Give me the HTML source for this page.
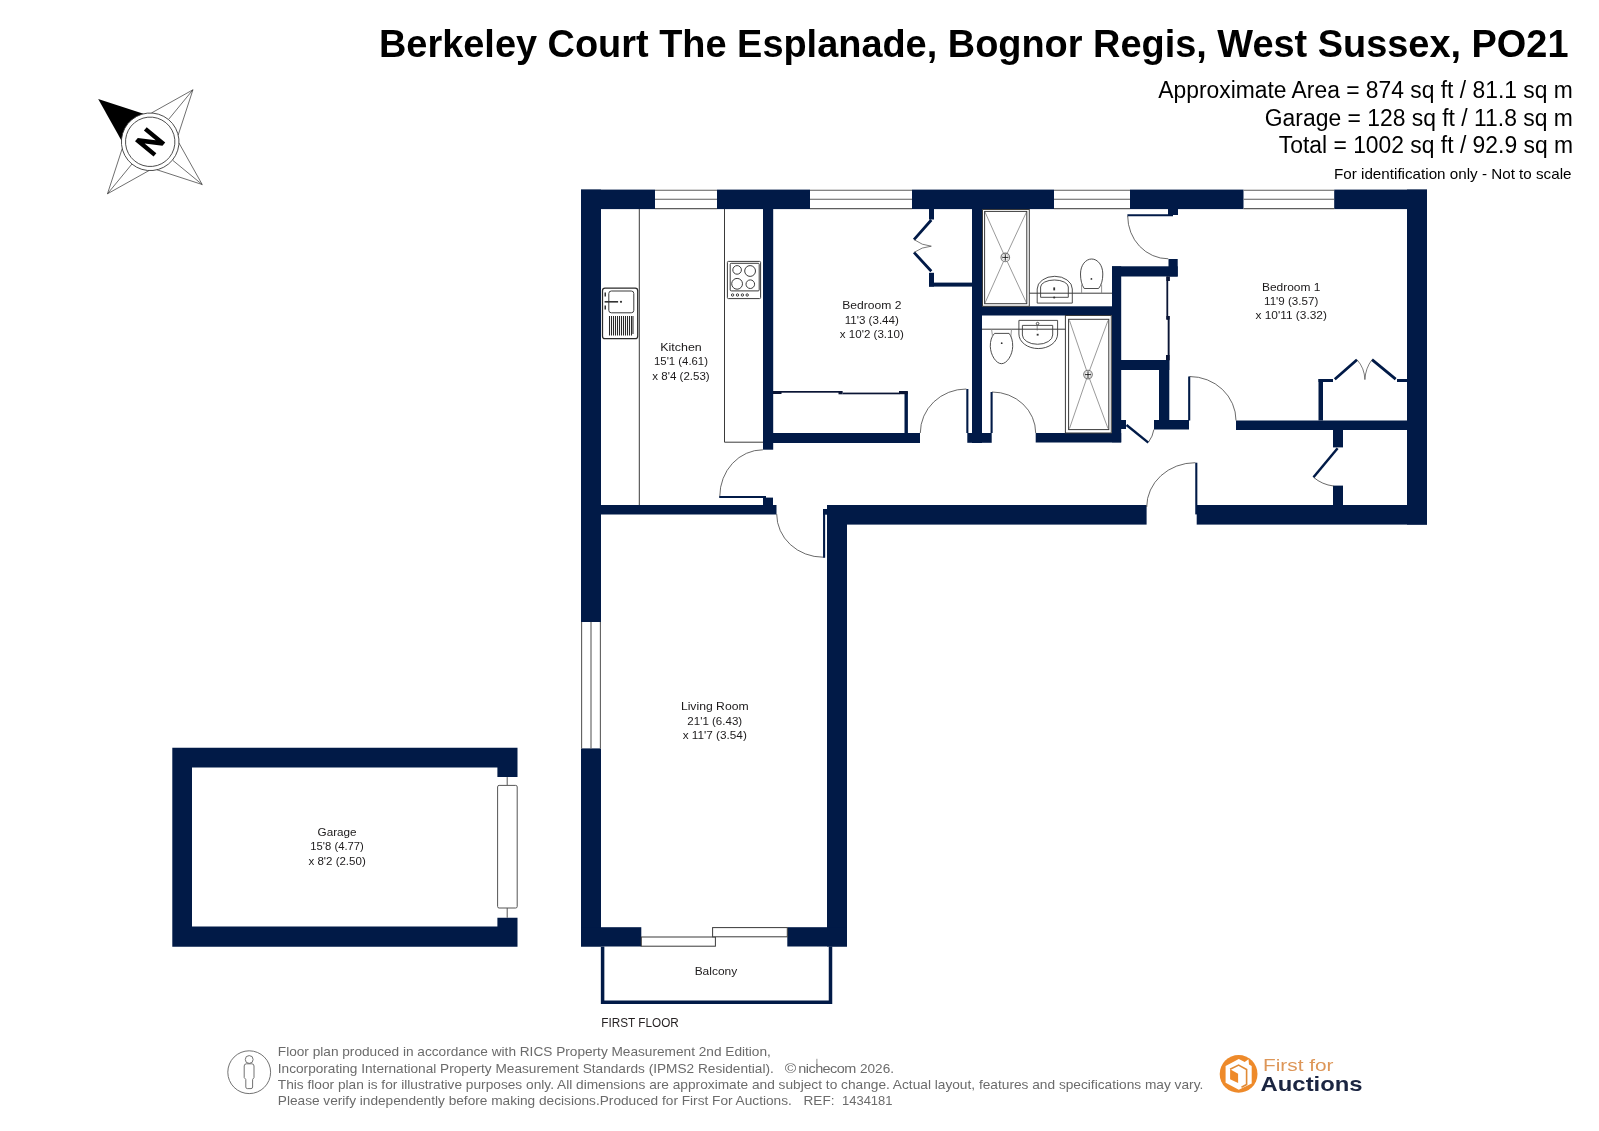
<!DOCTYPE html>
<html><head><meta charset="utf-8"><title>Floor plan</title>
<style>
html,body{margin:0;padding:0;background:#fff;}
body{width:1599px;height:1131px;overflow:hidden;position:relative;font-family:"Liberation Sans",sans-serif;}
svg{position:absolute;left:0;top:0;will-change:transform;}
</style></head>
<body>
<svg width="1599" height="1131" viewBox="0 0 1599 1131" font-family="Liberation Sans, sans-serif">
<!-- HEADER -->
<g id="header">
<text x="379" y="57.3" font-size="38" font-weight="700" fill="#000" textLength="1189.5" lengthAdjust="spacingAndGlyphs">Berkeley Court The Esplanade, Bognor Regis, West Sussex, PO21</text>
<text x="1158.3" y="97.5" font-size="23.3" fill="#000" textLength="414.5" lengthAdjust="spacingAndGlyphs">Approximate Area = 874 sq ft / 81.1 sq m</text>
<text x="1264.8" y="125.5" font-size="23.3" fill="#000" textLength="308" lengthAdjust="spacingAndGlyphs">Garage = 128 sq ft / 11.8 sq m</text>
<text x="1278.8" y="153" font-size="23.3" fill="#000" textLength="294.2" lengthAdjust="spacingAndGlyphs">Total = 1002 sq ft / 92.9 sq m</text>
<text x="1571.5" y="179.4" font-size="14.8" fill="#000" text-anchor="end" textLength="237.5" lengthAdjust="spacingAndGlyphs">For identification only - Not to scale</text>
</g>

<!-- PLAN -->
<g id="walls" fill="#011a47">
<!-- top wall -->
<rect x="581" y="189.6" width="74" height="19.5"/>
<rect x="717" y="189.6" width="93" height="19.5"/>
<rect x="912" y="189.6" width="142" height="19.5"/>
<rect x="1130" y="189.6" width="113.5" height="19.5"/>
<rect x="1334.2" y="189.6" width="92.8" height="19.5"/>
<!-- left wall -->
<rect x="581" y="189.6" width="20" height="432.4"/>
<rect x="581" y="748.4" width="20" height="198.1"/>
<!-- right wall -->
<rect x="1407" y="189.6" width="20" height="335"/>
<!-- bottom walls right section -->
<rect x="1196.7" y="505" width="230.3" height="19.6"/>
<rect x="827" y="505" width="319.6" height="19.6"/>
<!-- living right wall -->
<rect x="827" y="505" width="20" height="441.5"/>
<!-- living bottom -->
<rect x="581" y="927.2" width="60.3" height="19.3"/>
<rect x="787.3" y="927.2" width="59.7" height="19.3"/>
<!-- interior -->
<rect x="763" y="209" width="10.2" height="240.7"/>
<rect x="601" y="505" width="175.5" height="9.5"/>
<rect x="763" y="497.6" width="10" height="8"/>
<rect x="823" y="509" width="4.2" height="5.7"/>
<rect x="773" y="433" width="147" height="10"/>
<rect x="972" y="209" width="10" height="234"/>
<rect x="967.3" y="433" width="24.4" height="9.8"/>
<rect x="982" y="306.3" width="130" height="9.2"/>
<rect x="1112" y="266.3" width="9.2" height="176"/>
<rect x="1035.7" y="433" width="85.5" height="9.5"/>
<rect x="1112" y="266.3" width="65.7" height="10.2"/>
<rect x="1168.5" y="259" width="9.2" height="17.5"/>
<rect x="1168" y="209" width="10" height="6"/>
<rect x="1121" y="360" width="48.3" height="10"/>
<rect x="1159" y="360" width="10.3" height="69"/>
<rect x="1154" y="420" width="35" height="9.5"/>
<rect x="1121" y="420" width="5" height="9"/>
<rect x="1236" y="420.5" width="171" height="9.5"/>
<rect x="1318.5" y="379" width="4.5" height="41.5"/>
<rect x="1318.5" y="379" width="14.5" height="3"/>
<rect x="1397" y="379" width="10" height="3"/>
<rect x="1333" y="430" width="10" height="17.4"/>
<rect x="1333" y="485.6" width="10" height="19.4"/>
<rect x="929" y="209" width="5" height="10.5"/>
<rect x="929" y="272.8" width="5" height="13.8"/>
<rect x="929" y="282.6" width="43" height="4"/>
<rect x="904.5" y="391.6" width="3.4" height="41.4"/>
<!-- garage -->
<path d="M172.3 747.7H517.5V777.1H497.4V767.4H192V926.6H497.4V917.8H517.5V946.7H172.3Z"/>
</g>


<!-- fixtures -->
<g fill="none" stroke="#3a3a3a" stroke-width="1">
<!-- kitchen counters -->
<path d="M639.3 209V505"/>
<path d="M724.5 209V442.2H763"/>
<!-- sink -->
<rect x="602.5" y="288.2" width="35.2" height="50.5" rx="2.5" stroke-width="1.25" stroke="#2a2a2a"/>
<rect x="608.8" y="291" width="25" height="21.8" rx="2.5"/>
<!-- hob -->
<rect x="727.4" y="261.4" width="33.2" height="37.2" rx="1"/>
<rect x="730.2" y="263.3" width="29" height="27.6" rx="1"/>
<circle cx="737.1" cy="269.9" r="4.3"/>
<circle cx="750.1" cy="271" r="5.4"/>
<circle cx="737.1" cy="283.8" r="5.4"/>
<circle cx="750.3" cy="284.2" r="4.3"/>
<circle cx="732.6" cy="295" r="1.2"/>
<circle cx="737.5" cy="295" r="1.2"/>
<circle cx="742.4" cy="295" r="1.2"/>
<circle cx="747.2" cy="295" r="1.2"/>
<!-- bath 1 shower -->
<rect x="982.5" y="209.5" width="46.8" height="96.8"/>
<rect x="984.6" y="211.4" width="42.2" height="92.3"/>
<path d="M1029.3 293.2H1112"/>
<!-- bath 2 shower -->
<rect x="1065.4" y="315.5" width="45.9" height="117.5"/>
<rect x="1068.6" y="319.3" width="40.2" height="110.3"/>
<path d="M982 329.2H1065.4"/>
</g>
<g fill="none" stroke="#555" stroke-width="0.6">
<path d="M985 212L1005.3 257.4L1026.5 212M985 303L1005.3 257.4L1026.5 303"/>
<path d="M1069.5 320.5L1088 374.6L1108 320.5M1069.5 428.5L1088 374.6L1108 428.5"/>
<circle cx="1005.3" cy="257.4" r="4.3" fill="#fff" stroke="#777" stroke-width="1.1"/>
<circle cx="1005.3" cy="257.4" r="3" stroke="#aaa" stroke-width="0.6"/>
<circle cx="1088" cy="374.6" r="4.3" fill="#fff" stroke="#777" stroke-width="1.1"/>
<circle cx="1088" cy="374.6" r="3" stroke="#aaa" stroke-width="0.6"/>
<path d="M1002.3 257.4H1008.3M1005.3 254.3V260.6M1085 374.6H1091M1088 371.5V377.8" stroke="#111" stroke-width="0.9"/>
</g>
<!-- drainer -->
<g stroke="#2a2a2a" stroke-width="1.05">
<path d="M609.5 316V335.5M611.5 316V335.5M613.5 316V335.5M615.5 316V335.5M617.5 316V335.5M619.5 316V335.5M621.5 316V335.5M623.5 316V335.5M625.5 316V335.5M627.5 316V335.5M629.5 316V335.5M631.5 316V335.5M633 316V334"/>
</g>
<g fill="#333" stroke="none">
<rect x="604.6" y="301" width="13.5" height="1.6"/>
<circle cx="621" cy="301.8" r="1.1"/>
<rect x="604.5" y="292.5" width="1.5" height="4"/>
<rect x="604.5" y="305.5" width="1.5" height="4"/>
</g>

<!-- sanitary -->
<g fill="none" stroke="#3a3a3a" stroke-width="0.9">
<path d="M1037.2 303.1V289A17.55 12.7 0 0 1 1072.3 289V303.1Z"/>
<path d="M1040.6 297.3V287A13.85 7 0 0 1 1068.3 287V297.3Z"/>
<path d="M1084.2 288.5H1098.6C1101.5 285 1102.8 280 1102.8 274C1102.8 265 1097.5 259 1091.65 259C1085.8 259 1080.5 265 1080.5 274C1080.5 280 1081.8 285 1084.2 288.5Z"/>
<path d="M1081.6 284.5V293.2M1101.6 284.5V293.2" stroke="#888"/>
<path d="M1018.9 320.4H1057.6V334A19.35 14.6 0 0 1 1018.9 334Z"/>
<path d="M1022.4 325.4H1052.7V335A15.15 9.3 0 0 1 1022.4 335Z"/>
<path d="M994.5 333.4H1009.1C1011.6 336.5 1012.8 341 1012.7 346.5C1012.5 355 1007 363.7 1001.5 363.7C996 363.7 990.6 355 990.3 346.5C990.2 341 991.5 336.5 994.5 333.4Z"/>
<path d="M991.6 329.4L992.6 337M1011.5 329.4L1010.8 337" stroke="#888"/>
<circle cx="1037.6" cy="323.6" r="1.3"/>
</g>
<g fill="#333">
<circle cx="1091.4" cy="278.9" r="0.9"/>
<circle cx="1001.7" cy="343.2" r="0.9"/>
<rect x="1053.3" y="287.4" width="1.8" height="3"/>
<circle cx="1054.2" cy="297.5" r="1.1"/>
<rect x="1036.7" y="333.8" width="1.9" height="1.8"/>
<path d="M1037.2 325V330.5" stroke="#555" stroke-width="0.7"/>
</g>
<!-- wardrobe doors -->
<g fill="none" stroke="#011a47" stroke-width="2.8">
<path d="M931.3 220L914 239.6M914 252.4L931.3 271.2"/>
<path d="M1334.8 379.2L1357 359.7M1372 359.7L1395.7 379.2"/>
</g>
<g fill="none" stroke="#444" stroke-width="0.7">
<path d="M914 239.6Q922 245.5 931.3 246.2Q922 246.8 914 252.4"/>
<path d="M1357 359.7Q1364.5 368 1364.9 379.6Q1365.5 368 1372 359.7"/>
</g>
<g fill="#0a1535">
<rect x="773" y="391" width="69.5" height="1.7"/>
<rect x="773" y="391" width="8.5" height="3"/>
<rect x="838.5" y="391.5" width="4" height="2.8"/>
<rect x="842.5" y="392.6" width="57" height="1.7"/>
<rect x="899" y="391" width="8.8" height="3.2"/>
<rect x="1166.4" y="276.5" width="1.8" height="43.1"/>
<rect x="1166.4" y="276.5" width="3.5" height="4.5"/>
<rect x="1167.7" y="316" width="1.9" height="44.3"/>
<rect x="1166.4" y="316" width="3.2" height="3.6"/>
<rect x="1166" y="355" width="3.6" height="5"/>
</g>
<!-- living sliding doors -->
<g fill="#fff" stroke="#3a3a3a" stroke-width="1">
<rect x="641.3" y="937" width="74.1" height="9.2"/>
<rect x="712.6" y="927.6" width="74.7" height="9.2"/>
</g>
<!-- balcony -->
<path d="M602.6 946.5V1002.3H830.5V946.5" fill="none" stroke="#011a47" stroke-width="3.5"/>
<!-- garage door -->
<g fill="none" stroke="#555" stroke-width="1">
<path d="M507.2 777.1V785.4M507.2 908V917.8"/>
<rect x="497.6" y="785.4" width="19.6" height="122.6" rx="1.5" fill="#fff"/>
</g>
<!-- windows -->
<g fill="none" stroke="#5e5e5e" stroke-width="1.1">
<path d="M655 190.2H717M655 199.2H717M655 208.6H717"/>
<path d="M810 190.2H912M810 199.2H912M810 208.6H912"/>
<path d="M1054 190.2H1130M1054 199.2H1130M1054 208.6H1130"/>
<path d="M1243.5 190.2H1334.2M1243.5 199.2H1334.2M1243.5 208.6H1334.2"/>
<path d="M581.6 622V748.4M591 622V748.4M600.4 622V748.4"/>
</g>
<!-- door arcs -->
<g fill="none" stroke="#444" stroke-width="0.8">
<path d="M1127.7 216A40.6 42.8 0 0 0 1168.3 258.8"/>
<path d="M966.3 389A46 44 0 0 0 920.3 433"/>
<path d="M992 392A43.7 41 0 0 1 1035.7 433"/>
<path d="M1148.6 442A28 28 0 0 0 1153.9 429.5"/>
<path d="M1189.5 376.5A46.5 44 0 0 1 1236 420.5"/>
<path d="M1195.3 462.7A48.6 44.3 0 0 0 1146.7 507"/>
<path d="M1313.5 477.3A37.8 37.8 0 0 0 1333.5 486"/>
<path d="M719.8 496.3A43.1 46.5 0 0 1 762.9 449.8"/>
<path d="M776.7 514.1A46.5 43.1 0 0 0 823.2 557.2"/>
</g>
<!-- door leaves -->
<g fill="none" stroke="#011a47" stroke-width="2.1">
<path d="M1127.4 215.2H1173"/>
<path d="M967.35 389V433"/>
<path d="M991.6 392V433"/>
<path d="M1126.5 425L1148.3 442.6" stroke-width="2.4"/>
<path d="M1189.2 376.5V420.5"/>
<path d="M1196.3 462.7V514.4"/>
<path d="M1337.6 448.3L1313.5 477.3" stroke-width="2.5"/>
<path d="M719.2 497H766"/>
<path d="M824.1 509V557.8"/>
</g>
<!-- labels -->
<g font-size="11.5" fill="#1c1a1b" text-anchor="middle">
<text x="681" y="350.6" textLength="41.50" lengthAdjust="spacingAndGlyphs">Kitchen</text>
<text x="681" y="365.3" textLength="53.90" lengthAdjust="spacingAndGlyphs">15'1 (4.61)</text>
<text x="681" y="379.7" textLength="57.40" lengthAdjust="spacingAndGlyphs">x 8'4 (2.53)</text>
<text x="871.8" y="308.9" textLength="59.30" lengthAdjust="spacingAndGlyphs">Bedroom 2</text>
<text x="871.8" y="323.5" textLength="54.20" lengthAdjust="spacingAndGlyphs">11'3 (3.44)</text>
<text x="871.8" y="337.6" textLength="64.00" lengthAdjust="spacingAndGlyphs">x 10'2 (3.10)</text>
<text x="1291.2" y="290.8" textLength="58.50" lengthAdjust="spacingAndGlyphs">Bedroom 1</text>
<text x="1291.2" y="304.8" textLength="54.30" lengthAdjust="spacingAndGlyphs">11'9 (3.57)</text>
<text x="1291.2" y="318.6" textLength="71.40" lengthAdjust="spacingAndGlyphs">x 10'11 (3.32)</text>
<text x="714.75" y="709.9" textLength="67.70" lengthAdjust="spacingAndGlyphs">Living Room</text>
<text x="714.75" y="724.5" textLength="54.80" lengthAdjust="spacingAndGlyphs">21'1 (6.43)</text>
<text x="714.75" y="738.6" textLength="64.20" lengthAdjust="spacingAndGlyphs">x 11'7 (3.54)</text>
<text x="337.1" y="835.5" textLength="39.05" lengthAdjust="spacingAndGlyphs">Garage</text>
<text x="337.1" y="849.75" textLength="53.55" lengthAdjust="spacingAndGlyphs">15'8 (4.77)</text>
<text x="337.1" y="864.5" textLength="57.30" lengthAdjust="spacingAndGlyphs">x 8'2 (2.50)</text>
<text x="715.9" y="975" textLength="42.55" lengthAdjust="spacingAndGlyphs">Balcony</text>
</g>
<text x="601.3" y="1026.8" font-size="13.7" fill="#231f20" textLength="77.5" lengthAdjust="spacingAndGlyphs">FIRST FLOOR</text>

<!-- compass -->
<g transform="translate(150.2 141.8) rotate(-50.6)">
<path d="M0 -67.3L17.33 -23L-17.33 -23Z" fill="#000"/>
<g fill="none" stroke="#333" stroke-width="0.65">
<path d="M67.3 0L23 -17.33M67.3 0L23 17.33M67.3 0L28.8 0"/>
<path d="M0 67.3L17.33 23M0 67.3L-17.33 23M0 67.3L0 28.8"/>
<path d="M-67.3 0L-23 -17.33M-67.3 0L-23 17.33M-67.3 0L-28.8 0"/>
</g>
<circle r="28.8" fill="#fff" stroke="#333" stroke-width="0.8"/>
<circle r="24.7" fill="none" stroke="#333" stroke-width="0.8"/>
<path d="M-9.3 -12H-4.9L4.7 3.2V-12H9.1V12H4.7L-4.9 -3.2V12H-9.3Z" fill="#000"/>
</g>
<!-- footer -->
<g fill="none" stroke="#6a6a6a" stroke-width="0.95">
<circle cx="249.2" cy="1072.2" r="21.4"/>
<circle cx="249.2" cy="1059.5" r="3.9"/>
<path d="M246.5 1063.8H251.8Q254 1063.8 254 1066V1077.5L252.6 1079.5V1087Q252.6 1088.6 251 1088.6H247.3Q245.8 1088.6 245.8 1087V1079.5L244.2 1077.5V1066Q244.2 1063.8 246.5 1063.8Z"/>
</g>
<g font-size="13.2" fill="#6b6b6b">
<text x="277.8" y="1055.9" textLength="493" lengthAdjust="spacingAndGlyphs">Floor plan produced in accordance with RICS Property Measurement 2nd Edition,</text>
<text x="277.8" y="1072.5" textLength="496" lengthAdjust="spacingAndGlyphs">Incorporating International Property Measurement Standards (IPMS2 Residential).</text>
<text x="784.8" y="1072.5" textLength="11.5" lengthAdjust="spacingAndGlyphs">©</text>
<text x="798.3" y="1072.5" textLength="57.5" lengthAdjust="spacingAndGlyphs" letter-spacing="-0.5">nichecom</text>
<text x="860" y="1072.5" textLength="34" lengthAdjust="spacingAndGlyphs">2026.</text>
<path d="M816.9 1058.8V1065.5" stroke="#777" stroke-width="0.8"/>
<text x="277.8" y="1088.75" textLength="925.5" lengthAdjust="spacingAndGlyphs">This floor plan is for illustrative purposes only. All dimensions are approximate and subject to change. Actual layout, features and specifications may vary.</text>
<text x="277.8" y="1105" textLength="514" lengthAdjust="spacingAndGlyphs">Please verify independently before making decisions.Produced for First For Auctions.</text>
<text x="803.5" y="1105" textLength="31" lengthAdjust="spacingAndGlyphs">REF:</text>
<text x="842" y="1105" textLength="50.5" lengthAdjust="spacingAndGlyphs">1434181</text>
</g>
<!-- logo -->
<circle cx="1238.6" cy="1073.9" r="18.9" fill="#ee8a2a"/>
<path d="M1225.6 1066.1L1238.8 1059.1L1244.7 1061.9L1248.5 1059.3L1249 1064.4L1251.7 1066.1V1083.5L1238.8 1089.7L1225.6 1082.7Z" fill="#fff"/>
<path d="M1230.1 1069.3L1238.6 1065.1L1246.6 1069.5V1084.5L1241.5 1087.2" fill="none" stroke="#e08a35" stroke-width="1.6"/>
<path d="M1230.1 1069.3L1238.1 1073.8V1083.1L1230.1 1079.3Z" fill="#ee8a2a"/>
<text x="1263" y="1071" font-size="15.8" fill="#dd9658" textLength="70.5" lengthAdjust="spacingAndGlyphs">First for</text>
<text x="1260.6" y="1090.7" font-size="19.7" font-weight="700" fill="#1b2541" textLength="102" lengthAdjust="spacingAndGlyphs">Auctions</text>
</svg>
</body></html>
